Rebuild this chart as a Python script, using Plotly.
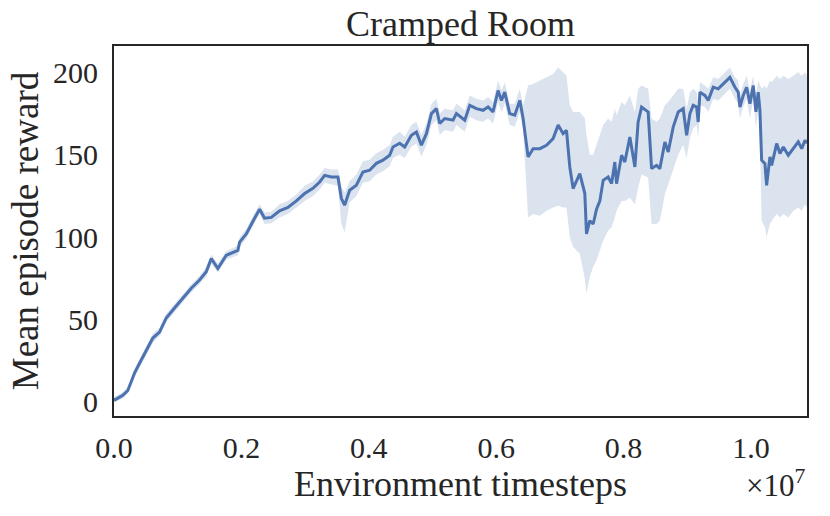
import plotly.graph_objects as go

# Environment timesteps (in units of 1e7)
timesteps_1e7 = [
    0.000, 0.0138, 0.0217, 0.0322, 0.0401, 0.0506, 0.0610, 0.0715, 0.0820, 0.0950,
    0.1081, 0.1213, 0.1343, 0.1449, 0.1527, 0.1631, 0.1763, 0.1945, 0.1972, 0.2077,
    0.2207, 0.2286, 0.2364, 0.2470, 0.2600, 0.2731, 0.2863, 0.2993, 0.3123, 0.3229,
    0.3307, 0.3412, 0.3516, 0.3569, 0.3621, 0.3700, 0.3805, 0.3909, 0.4014, 0.4119,
    0.4223, 0.4328, 0.4380, 0.4485, 0.4564, 0.4669, 0.4748, 0.4826, 0.4905, 0.4984,
    0.5062, 0.5114, 0.5193, 0.5323, 0.5376, 0.5507, 0.5585, 0.5690, 0.5794, 0.5873,
    0.5951, 0.6030, 0.6083, 0.6135, 0.6213, 0.6292, 0.6371, 0.6423, 0.6501, 0.6580,
    0.6685, 0.6790, 0.6894, 0.6973, 0.7051, 0.7104, 0.7156, 0.7208, 0.7313, 0.7392,
    0.7418, 0.7470, 0.7523, 0.7576, 0.7628, 0.7680, 0.7758, 0.7812, 0.7863, 0.7890,
    0.7969, 0.8020, 0.8099, 0.8178, 0.8229, 0.8283, 0.8386, 0.8440, 0.8518, 0.8570,
    0.8649, 0.8701, 0.8779, 0.8858, 0.8936, 0.8990, 0.9042, 0.9093, 0.9147, 0.9172,
    0.9199, 0.9277, 0.9329, 0.9408, 0.9486, 0.9565, 0.9670, 0.9749, 0.9800, 0.9827,
    0.9879, 0.9932, 0.9984, 1.0036, 1.0079, 1.0114, 1.0141, 1.0168, 1.0220, 1.0246,
    1.0298, 1.0325, 1.0404, 1.0456, 1.0508, 1.0586, 1.0665, 1.0743, 1.0797, 1.0848,
    1.0880,
]

mean_reward = [
    1, 4, 7, 17.5, 23.5, 31.5, 38.8, 42.4, 51, 57,
    63, 69, 74, 79, 87, 81, 89, 92, 97, 102,
    111.5, 117, 111.5, 112, 116, 118, 122, 126.5, 129.6, 133.5,
    137.5, 136.5, 136.5, 123.6, 119.4, 128.5, 131.5, 139.6, 140.6, 144.8,
    146.7, 149.7, 154.7, 157, 154.7, 161.8, 163.8, 155.8, 162.8, 175,
    178, 169, 172, 171, 175, 171, 180, 178, 177, 179,
    176, 189, 183, 188, 175, 174, 183, 172, 148.7, 153.7,
    153.7, 155.8, 159.8, 168, 162.8, 164.8, 142.6, 129.5, 138.6, 126.5,
    102, 110, 108, 117, 122, 134.5, 136.5, 132.5, 145.6, 132.5,
    149.7, 145.6, 160.8, 142.6, 169.9, 179, 176, 141.6, 143.6, 141.6,
    157.8, 151.7, 166.8, 176, 178, 161.8, 175, 180, 179, 169.9,
    188, 186, 183, 191, 190, 193, 197, 191, 188, 179,
    186, 191, 181, 192, 176, 188, 177, 146.7, 144.6, 131.5,
    148.7, 143.6, 156.8, 150.7, 154.7, 149.7, 153.7, 157.8, 153.7, 158.8,
    157,
]

band_lower = [
    0, 2, 5, 15, 21, 29, 36, 40, 48.5, 54.5,
    60.5, 66.5, 71.5, 76.5, 84, 78.5, 86.5, 89, 94, 99,
    108.5, 114, 108, 108.5, 112, 114, 118, 122, 125, 129,
    133, 132, 131, 108, 103, 121, 125, 133, 134, 138,
    140, 143, 148, 150, 148, 155, 157, 149, 156, 168,
    171, 162, 165, 164, 168, 164, 173, 171, 170, 172,
    169, 182, 176, 181, 168, 167, 176, 165, 112, 114,
    113, 116, 118, 119, 118, 118, 100, 94, 90, 75,
    66, 76, 82, 86, 92, 98, 104, 106, 112, 116,
    122, 122, 124, 120, 130, 138, 136, 108, 108, 110,
    126, 132, 142, 150, 156, 148, 160, 166, 168, 160,
    180, 179, 176, 184, 183, 186, 190, 184, 181, 172,
    179, 184, 172, 184, 166, 178, 160, 110, 106, 100,
    108, 110, 114, 112, 114, 112, 116, 118, 116, 120,
    118,
]

band_upper = [
    3, 6, 9, 20, 26, 34, 41.5, 45, 53.5, 59.5,
    65.5, 71.5, 76.5, 82, 89.5, 84, 91.5, 95, 100, 105,
    114.5, 120, 115, 115.5, 120, 122, 126, 131, 134, 138,
    142, 141, 141, 131, 127, 134, 138, 146, 147, 151,
    153, 156, 161, 164, 161, 168, 170, 162, 169, 181,
    184, 175, 178, 177, 181, 177, 186, 184, 183, 185,
    182, 195, 189, 194, 181, 181, 190, 180, 192, 193,
    195, 197, 199, 203, 200, 198, 180, 176, 176, 172,
    162, 150, 150, 156, 162, 168, 172, 170, 178, 174,
    182, 180, 186, 176, 190, 192, 190, 172, 170, 172,
    180, 182, 186, 190, 190, 178, 188, 190, 188, 180,
    194, 192, 190, 197, 196, 199, 203, 197, 195, 186,
    193, 198, 189, 198, 186, 195, 192, 190, 192, 190,
    195, 194, 198, 196, 198, 196, 198, 200, 198, 200,
    198,
]

x_tick_vals_1e7 = [0.0, 0.2, 0.4, 0.6, 0.8, 1.0]
x_tick_text = ["0.0", "0.2", "0.4", "0.6", "0.8", "1.0"]
y_tick_vals = [0, 50, 100, 150, 200]

x_steps = [v * 1e7 for v in timesteps_1e7]
line_color = "#4C72B0"
band_color = "rgba(76,114,176,0.2)"
font_family = "Liberation Serif"
dark = "#262626"

fig = go.Figure()
fig.add_trace(go.Scatter(x=x_steps, y=band_lower, mode="lines",
                         line=dict(width=0, color=band_color),
                         showlegend=False, hoverinfo="skip"))
fig.add_trace(go.Scatter(x=x_steps, y=band_upper, mode="lines",
                         line=dict(width=0, color=band_color),
                         fill="tonexty", fillcolor=band_color,
                         showlegend=False, hoverinfo="skip"))
fig.add_trace(go.Scatter(x=x_steps, y=mean_reward, mode="lines",
                         line=dict(width=3, color=line_color),
                         showlegend=False))

fig.update_layout(
    width=830, height=516,
    margin=dict(l=114, r=23, t=46, b=100),
    paper_bgcolor="white", plot_bgcolor="white",
    font=dict(family=font_family, color=dark, size=30),
    title=dict(text="Cramped Room", x=0.5, xref="paper", xanchor="center",
               y=1.0, yref="paper", yanchor="bottom", pad=dict(b=10),
               font=dict(family=font_family, size=36, color=dark)),
)
fig.update_xaxes(
    range=[0, 1.088e7],
    tickvals=[v * 1e7 for v in x_tick_vals_1e7], ticktext=x_tick_text,
    showgrid=False, zeroline=False, ticks="", ticklen=0,
    showline=True, mirror=True, linecolor=dark, linewidth=2,
    tickfont=dict(size=30, family=font_family, color=dark),
    ticklabelstandoff=4,
    title=dict(text="Environment timesteps", standoff=6,
               font=dict(size=36, family=font_family, color=dark)),
)
fig.update_yaxes(
    range=[-8.5, 216],
    tickvals=y_tick_vals,
    showgrid=False, zeroline=False, ticks="", ticklen=0,
    showline=True, mirror=True, linecolor=dark, linewidth=2,
    tickfont=dict(size=30, family=font_family, color=dark),
    ticklabelstandoff=8,
    title=dict(text="Mean episode reward", standoff=3,
               font=dict(size=37, family=font_family, color=dark)),
)
fig.add_annotation(text="×10<sup>7</sup>", xref="paper", yref="paper",
                   x=1.0, y=-0.125, xanchor="right", yanchor="top",
                   showarrow=False,
                   font=dict(size=31, family=font_family, color=dark))

# remove the browser's default page margin so the figure sits at the window origin
fig.write_html("out.html",
               config={"displayModeBar": False},
               post_script="document.body.style.margin='0';")
